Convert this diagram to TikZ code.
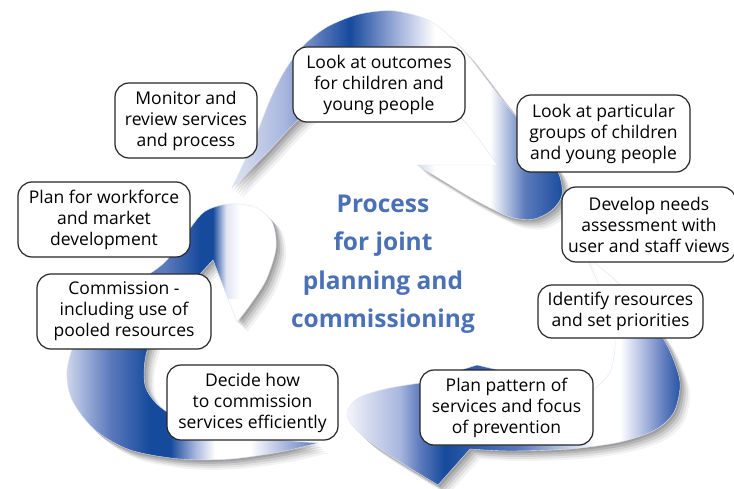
\documentclass[tikz,border=0pt]{standalone}
\usepackage{fontspec}
\setmainfont{Open Sans}

\definecolor{banddark}{RGB}{22,74,156}
\definecolor{bandmid}{RGB}{92,122,188}
\definecolor{bandlight}{RGB}{168,182,222}
\definecolor{bandpale}{RGB}{224,228,243}
\definecolor{titleblue}{RGB}{74,112,182}

% colour runs across the three ribbons (25bp = left end, 75bp = right end)
\pgfdeclarehorizontalshading{bandtop}{100bp}{color(0bp)=(bandpale); color(25bp)=(bandpale);
  color(33.2bp)=(bandlight); color(38.1bp)=(bandmid); color(42.9bp)=(banddark);
  color(50.4bp)=(bandlight); color(55.6bp)=(white); color(63.8bp)=(white);
  color(69bp)=(bandmid); color(75bp)=(banddark); color(100bp)=(banddark)}
\pgfdeclarehorizontalshading{bandleftup}{100bp}{color(0bp)=(bandmid); color(25bp)=(bandmid);
  color(45.2bp)=(bandmid); color(51.9bp)=(banddark); color(54.4bp)=(banddark);
  color(56.9bp)=(bandpale); color(59.6bp)=(white); color(75bp)=(white); color(100bp)=(white)}
\pgfdeclarehorizontalshading{bandleftlow}{100bp}{color(0bp)=(bandpale); color(25bp)=(bandpale);
  color(34.6bp)=(bandmid); color(42.3bp)=(banddark); color(46.2bp)=(banddark);
  color(51bp)=(bandlight); color(54.8bp)=(white); color(61.5bp)=(white);
  color(68.3bp)=(bandlight); color(75bp)=(bandmid); color(100bp)=(bandmid)}
\pgfdeclarehorizontalshading{bandright}{100bp}{color(0bp)=(white); color(25bp)=(white);
  color(27.9bp)=(bandpale); color(33.7bp)=(bandlight); color(36.6bp)=(bandmid);
  color(40.2bp)=(banddark); color(51.1bp)=(bandmid); color(62bp)=(white);
  color(65.6bp)=(white); color(69.2bp)=(bandlight); color(72.1bp)=(bandmid);
  color(75bp)=(banddark); color(100bp)=(banddark)}

% outlines of the ribbons
\newcommand\ribbontop{(232,188) -- plot[smooth] coordinates {(232,188) (245,160) (257,133)
  (270,100) (284,72) (302,47) (327,27) (360,14) (395,11) (432,22) (465,52) (500,97)
  (535,140) (558,172) (562,195) (552,210) (534,219) (510,217) (475,200) (445,182) (417,165)}
  -- (497,165) -- plot[smooth] coordinates {(497,165) (478,138) (455,112) (420,92)
  (370,86) (325,100) (298,120) (265,155) (232,188)} -- cycle}
\newcommand\ribbonleft{(318,443) -- plot[smooth] coordinates {(318,443) (280,452) (230,459)
  (180,459) (130,450) (95,430) (72,400) (67,370) (78,335) (105,300) (140,280) (165,262)
  (186,234) (204,212) (228,204) (255,207) (272,222) (276,248) (266,280) (250,305) (237,322)}
  -- (213,260) -- plot[smooth] coordinates {(213,260) (190,285) (160,320) (146,355)
  (145,385) (158,405) (185,422) (230,435) (280,440) (318,443)} -- cycle}
\newcommand\ribbonright{(585,255) -- plot[smooth] coordinates {(585,255) (615,280) (645,312)
  (668,347) (680,382) (674,412) (655,430) (620,442) (570,449) (510,451) (470,449)}
  -- (438,485) -- plot[smooth] coordinates {(438,485) (400,462) (370,442) (352,425)
  (347,412) (358,398) (385,389) (420,383)} -- (477,365) -- (540,380)
  -- plot[smooth] coordinates {(593,390) (610,372) (615,340) (605,300) (585,255)} -- cycle}

\begin{document}
\begin{tikzpicture}[x=1pt,y=-1pt,
    stepbox/.style={draw=black!85,line width=1.2pt,fill=white,rounded corners=14pt,
      align=center,inner sep=2pt,minimum height=75pt,
      font=\fontsize{17.5}{21}\selectfont},
    ribbonshadow/.style={fill=black,opacity=#1},
    ribbonline/.style={draw=bandpale,line width=.4pt}]
  \useasboundingbox (0,0) rectangle (734,489);

  % soft shadows under the ribbons
  \foreach \s/\o in {10/.05,8/.07,6/.09,4/.11,2/.12}{
    \fill[ribbonshadow=\o,shift={(\s,\s)}] \ribbontop;
    \fill[ribbonshadow=\o,shift={(\s,\s)}] \ribbonleft;
    \fill[ribbonshadow=\o,shift={(\s,\s)}] \ribbonright;
  }

  % the three ribbons
  \begin{scope}
    \clip \ribbontop;
    \shade[shading=bandtop] (230,0) rectangle (565,230);
  \end{scope}
  \begin{scope}
    \clip \ribbonleft;
    \shade[shading=bandleftup] (60,190) rectangle (320,300);
    \shade[shading=bandleftlow] (60,300) rectangle (320,470);
  \end{scope}
  \begin{scope}
    \clip \ribbonright;
    \shade[shading=bandright] (340,240) rectangle (685,489);
  \end{scope}
  \path[ribbonline] \ribbontop;
  \path[ribbonline] \ribbonleft;
  \path[ribbonline] \ribbonright;

  \node[font=\fontsize{24.5}{38.5}\selectfont\bfseries,text=titleblue,align=center]
    (process) at (383,264) {Process\\for joint\\planning and\\commissioning};

  \node[stepbox,minimum width=172pt] (outcomes) at (379,84.5)
    {Look at outcomes\\for children and\\young people};
  \node[stepbox,minimum width=173pt,minimum height=77pt] (groups) at (603.5,133.5)
    {Look at particular\\groups of children\\and young people};
  \node[stepbox,minimum width=174pt] (needs) at (649,224.5)
    {Develop needs\\assessment with\\user and staff views};
  \node[stepbox,minimum width=165pt,minimum height=53pt] (resources) at (620.5,311.5)
    {Identify resources\\and set priorities};
  \node[stepbox,minimum width=173pt] (pattern) at (506.5,407.5)
    {Plan pattern of\\services and focus\\of prevention};
  \node[stepbox,minimum width=171pt] (decide) at (252.5,402.5)
    {Decide how\\to commission\\services efficiently};
  \node[stepbox,minimum width=174pt] (commission) at (124,311.5)
    {Commission -\\including use of\\pooled resources};
  \node[stepbox,minimum width=172pt] (workforce) at (104,219.5)
    {Plan for workforce\\and market\\development};
  \node[stepbox,minimum width=142pt] (monitor) at (186,120.5)
    {Monitor and\\review services\\and process};
\end{tikzpicture}
\end{document}
